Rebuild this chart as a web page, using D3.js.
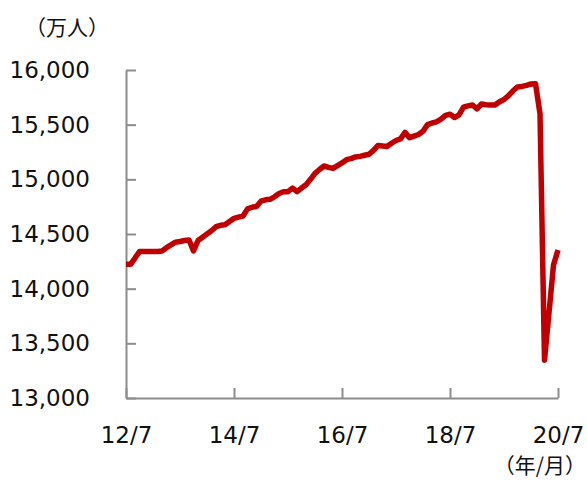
<!DOCTYPE html>
<html>
<head>
<meta charset="utf-8">
<script src="https://d3js.org/d3.v7.min.js"></script>
<style>
  body { margin: 0; background: #fff; }
  svg text { font-family: "DejaVu Sans", Verdana, sans-serif; fill: #111; }
  .jp { font-family: "Noto Sans CJK JP", sans-serif; }
</style>
</head>
<body>
<div id="chart"></div>
<script>
// employment level, monthly, 2012/7 .. 2020/7 (万人)
const employed = [
  14223, 14223, 14280, 14340, 14340, 14340, 14340, 14340, 14345, 14375,
  14400, 14425, 14432, 14440, 14445, 14345, 14440, 14470, 14500, 14530,
  14567, 14580, 14585, 14615, 14643, 14655, 14665, 14730, 14745, 14752,
  14800, 14813, 14817, 14840, 14870, 14887, 14887, 14920, 14887, 14920,
  14950, 15000, 15055, 15090, 15122, 15110, 15100, 15125, 15150, 15180,
  15190, 15205, 15210, 15220, 15229, 15265, 15310, 15305, 15300, 15330,
  15355, 15370, 15430, 15380, 15395, 15410, 15440, 15500, 15515, 15525,
  15550, 15585, 15595, 15565, 15590, 15660, 15672, 15680, 15645, 15690,
  15682, 15680, 15680, 15710, 15730, 15765, 15810, 15845, 15850, 15860,
  15872, 15875, 15600, 13345, 13780, 14217, 14354
];
const yTicks = [13000, 13500, 14000, 14500, 15000, 15500, 16000];
const xTickMonths = [0, 24, 48, 72, 96];
const xTickLabels = ["12/7", "14/7", "16/7", "18/7", "20/7"];

const width = 587, height = 480;
const svg = d3.select("#chart").append("svg")
  .attr("width", width)
  .attr("height", height);

const x = d3.scaleLinear().domain([0, 96]).range([126, 558]);
const y = d3.scaleLinear().domain([13000, 16000]).range([398, 70]);

const axisColor = "#8c8c8c";

// y axis
const yAxis = svg.append("g")
  .attr("transform", "translate(126,0)")
  .call(d3.axisLeft(y)
    .tickValues(yTicks)
    .tickSize(-10)
    .tickSizeOuter(0)
    .tickPadding(36)
    .tickFormat(d3.format(",")));

// x axis
const xAxis = svg.append("g")
  .attr("transform", "translate(0,398)")
  .call(d3.axisBottom(x)
    .tickValues(xTickMonths)
    .tickSize(-10)
    .tickSizeOuter(0)
    .tickPadding(29)
    .tickFormat((d, i) => xTickLabels[i]));

[yAxis, xAxis].forEach(g => {
  g.select(".domain").attr("stroke", axisColor).attr("stroke-width", 2);
  g.selectAll(".tick line").attr("stroke", axisColor).attr("stroke-width", 2);
  g.selectAll(".tick text")
    .attr("font-size", 23)
    .attr("font-family", "DejaVu Sans, Verdana, sans-serif")
    .attr("fill", "#111");
});

// line
const line = d3.line()
  .x((d, i) => x(i))
  .y(d => y(d));

svg.append("path")
  .datum(employed)
  .attr("fill", "none")
  .attr("stroke", "#c00000")
  .attr("stroke-width", 5.5)
  .attr("stroke-linejoin", "round")
  .attr("d", line);

// unit labels
svg.append("text")
  .attr("class", "jp")
  .attr("x", 25)
  .attr("y", 35)
  .attr("font-size", 21)
  .text("（万人）");

svg.append("text")
  .attr("class", "jp")
  .attr("x", 586)
  .attr("y", 473)
  .attr("text-anchor", "end")
  .attr("font-size", 21)
  .text("（年/月）");
</script>
</body>
</html>
